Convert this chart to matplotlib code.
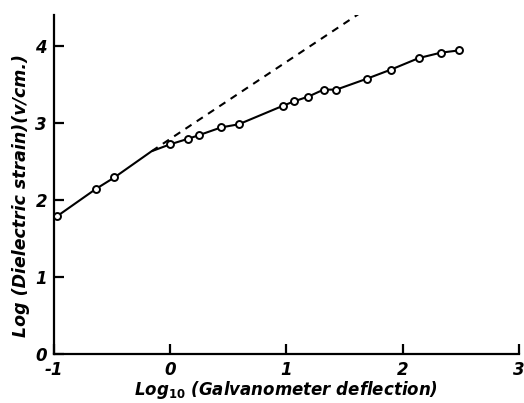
import numpy as np
import matplotlib.pyplot as plt

# measured points (log10 deflection, log strain)
x_pts = [-0.97, -0.64, -0.48, 0.0, 0.15, 0.25, 0.44, 0.59, 0.97, 1.07, 1.19, 1.32, 1.43, 1.69, 1.90, 2.14, 2.33, 2.49]
y_pts = [1.79, 2.14, 2.29, 2.72, 2.79, 2.84, 2.94, 2.98, 3.22, 3.28, 3.34, 3.43, 3.43, 3.57, 3.69, 3.84, 3.91, 3.94]

# kink of the curve, where the extrapolated dashed line starts
x_kink, y_kink = -0.16, 2.63
x_dash = [x_kink, 1.63]
y_dash = [y_kink, 4.42]

x_ticks = [-1, 0, 1, 2, 3]
y_ticks = [0, 1, 2, 3, 4]

fig = plt.figure(figsize=(5.24, 4.03), dpi=100)
ax = fig.add_axes([0.103, 0.122, 0.887, 0.841])

# curve through points plus kink
xc = x_pts[:3] + [x_kink] + x_pts[3:]
yc = y_pts[:3] + [y_kink] + y_pts[3:]
ax.plot(xc, yc, color='black', lw=1.5, zorder=2)
ax.plot(x_pts, y_pts, 'o', ms=5, mfc='white', mec='black', mew=1.4, zorder=3)
ax.plot(x_dash, y_dash, color='black', lw=1.5, ls=(0, (3.5, 3)), zorder=1)

ax.set_xlim(-1, 3)
ax.set_ylim(0, 4.4)
ax.spines['top'].set_visible(False)
ax.spines['right'].set_visible(False)
ax.spines['left'].set_linewidth(1.6)
ax.spines['bottom'].set_linewidth(1.6)

ax.set_xticks(x_ticks)
ax.set_yticks(y_ticks)
ax.set_xticklabels([str(t) for t in x_ticks], fontstyle='italic', fontweight='bold', fontsize=12)
ax.set_yticklabels([str(t) for t in y_ticks], fontstyle='italic', fontweight='bold', fontsize=12)
ax.tick_params(direction='in', length=7, width=1.6)
ax.tick_params(axis='x', pad=5)
ax.tick_params(axis='y', pad=5)

ax.set_xlabel(r'Log$_{\mathbf{10}}$ (Galvanometer deflection)', fontstyle='italic', fontweight='bold', fontsize=12, labelpad=0)
ax.set_ylabel('Log (Dielectric strain)(v/cm.)', fontstyle='italic', fontweight='bold', fontsize=12.5)
ax.yaxis.set_label_coords(-0.052, 0.466)

fig.savefig('out.png', dpi=100)
